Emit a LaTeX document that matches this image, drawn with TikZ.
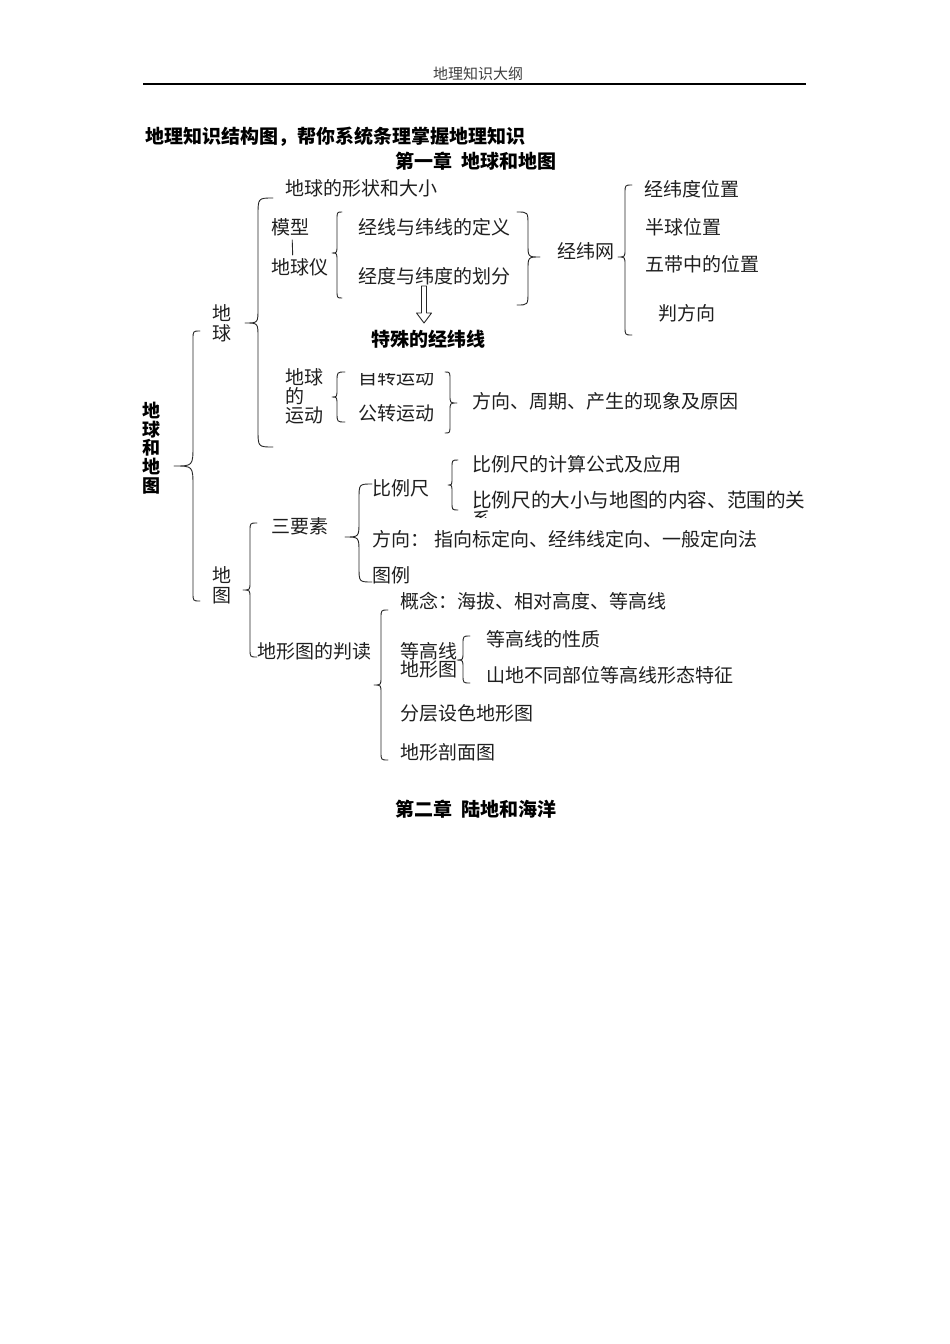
\documentclass[tikz,border=0pt]{standalone}
\usepackage{fontspec}
\setmainfont{Noto Sans CJK SC}
\newcommand\mybrace[6]{%
  \pgfmathsetmacro\brA{max(1.2*abs(#2-(#1)),8)}%
  \pgfmathsetmacro\brB{max(1.1*abs(#3-(#2)),8)}%
  \draw[brc] (#1,#4) .. controls (#2,#4) .. (#2,#4+\brA) -- (#2,#5-\brB)
     .. controls (#2,#5) .. (#3,#5) .. controls (#2,#5) .. (#2,#5+\brB)
     -- (#2,#6-\brA) .. controls (#2,#6) .. (#1,#6);}
\begin{document}
\begin{tikzpicture}[x=1pt,y=-1pt,
  t/.style={inner sep=0pt, anchor=west, text=black!88, font=\fontsize{19}{19}\selectfont},
  tv/.style={inner sep=0pt, anchor=center, align=center, text=black!88, font=\fontsize{19}{20}\selectfont},
  tb/.style={inner sep=0pt, text=black, font=\bfseries\fontsize{19}{19}\selectfont},
  hdr/.style={inner sep=0pt, text=black!75, font=\fontsize{15}{15}\selectfont},
  brc/.style={draw=black!85, line width=0.9pt, line cap=round, line join=round}]
\useasboundingbox (0,0) rectangle (950,1344);
\fill[white] (0,0) rectangle (950,1344);
% header
\node[hdr] (hdr) at (478,74) {地理知识大纲};
\coordinate (rl) at (143,84);
\coordinate (rr) at (806,84);
\draw[line width=1.4pt] (rl) -- (rr);
\node[tb, anchor=west] (title) at (145,137) {地理知识结构图，帮你系统条理掌握地理知识};
\node[tb] (ch1) at (476,161) {第一章\hspace{10pt}地球和地图};
% root
\node[tb, align=center, font=\bfseries\fontsize{18}{18.6}\selectfont] (root) at (151,448) {地\\球\\和\\地\\图};
\mybrace{200}{193}{174}{331}{466}{601}
% earth branch
\node[tv] (earth) at (222,323) {地\\球};
\mybrace{273}{258}{245}{198}{323}{447}
\node[t] (shape) at (285,188) {地球的形状和大小};
\node[t] (model) at (271,227) {模型};
\node[t] (globe) at (271,267) {地球仪};
\draw[brc] ([xshift=2pt,yshift=-4pt]model.south) -- ([xshift=-7pt,yshift=3pt]globe.north);
\mybrace{342}{337}{332}{212}{253}{298}
\node[t] (def1) at (358,227) {经线与纬线的定义};
\node[t] (def2) at (358,276) {经度与纬度的划分};
\mybrace{517}{528}{540}{212}{257}{305}
\node[t] (grid) at (557,251) {经纬网};
\mybrace{632}{625}{618}{185}{257}{335}
\node[t] (p1) at (644,189) {经纬度位置};
\node[t] (p2) at (645,227) {半球位置};
\node[t] (p3) at (645,264) {五带中的位置};
\node[t] (p4) at (658,313) {判方向};
\draw[brc, fill=white] (421.5,286) -- (426.5,286) -- (426.5,313) -- (431.5,313) -- (424,323) -- (416.5,313) -- (421.5,313) -- cycle;
\node[tb, anchor=west] (special) at (371,339) {特殊的经纬线};
% motion
\node[t, align=left, font=\fontsize{19}{19}\selectfont] (motion) at (285,396) {地球\\的\\运动};
\mybrace{345}{337}{332}{372}{397}{422}
\begin{scope}
  \clip (350,373) rectangle (445,392);
  \node[t] (rot) at (358,377.5) {自转运动};
\end{scope}
\node[t] (rev) at (358,413) {公转运动};
\mybrace{445}{450}{457}{372}{403}{433}
\node[t] (mot) at (472,401) {方向、周期、产生的现象及原因};
% map branch
\node[tv] (map) at (222,585) {地\\图};
\mybrace{257}{250}{243}{523}{590}{657}
\node[t] (three) at (271,526) {三要素};
\mybrace{372}{359}{345}{484}{537}{582}
\node[t] (scale) at (372,488) {比例尺};
\mybrace{458}{452}{448}{460}{485}{510}
\node[t] (sc1) at (472,464) {比例尺的计算公式及应用};
\node[t, font=\fontsize{19.6}{19.6}\selectfont] (sc2) at (472,500) {比例尺的大小与地图的内容、范围的关};
\begin{scope}
  \clip (465,510) rectangle (500,517);
  \node[t] (sc2b) at (472,519) {系};
\end{scope}
\node[t] (dir) at (372,539) {方向：\hspace{5pt}指向标定向、经纬线定向、一般定向法};
\node[t] (legend) at (372,575) {图例};
\node[t] (read) at (257,651) {地形图的判读};
\mybrace{388}{381}{374}{610}{685}{760}
\node[t] (concept) at (400,601) {概念：海拔、相对高度、等高线};
\node[t, align=left, font=\fontsize{19}{18}\selectfont] (contour) at (400,660) {等高线\\地形图};
\mybrace{470}{463}{457}{636}{660}{683}
\node[t] (cprop) at (486,639) {等高线的性质};
\node[t] (cfeat) at (486,675) {山地不同部位等高线形态特征};
\node[t] (layer) at (400,713) {分层设色地形图};
\node[t] (profile) at (400,752) {地形剖面图};
\node[tb] (ch2) at (476,809) {第二章\hspace{10pt}陆地和海洋};
\end{tikzpicture}
\end{document}
